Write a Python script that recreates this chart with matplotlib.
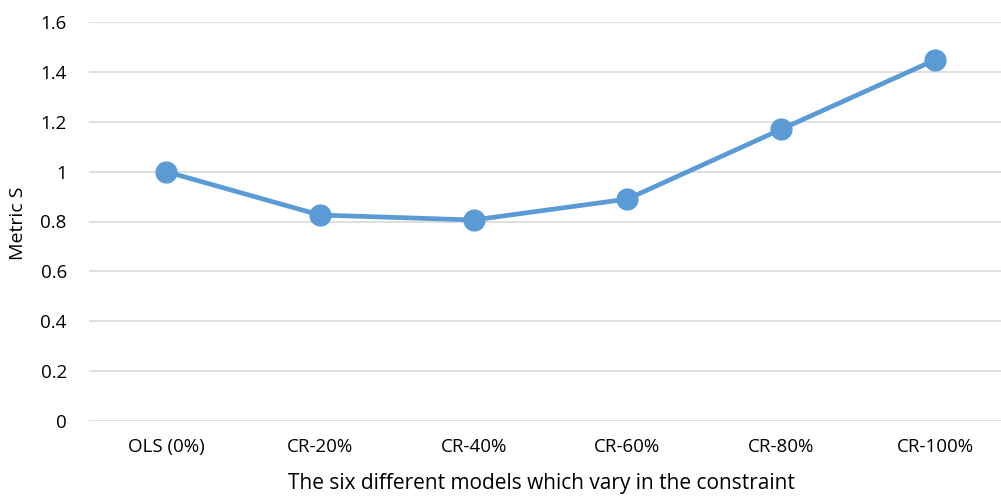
import matplotlib.pyplot as plt

# Data
models = ["OLS (0%)", "CR-20%", "CR-40%", "CR-60%", "CR-80%", "CR-100%"]
metric_s = [1.0, 0.826, 0.806, 0.89, 1.17, 1.448]
yticks = [0, 0.2, 0.4, 0.6, 0.8, 1, 1.2, 1.4, 1.6]
ytick_labels = ["0", "0.2", "0.4", "0.6", "0.8", "1", "1.2", "1.4", "1.6"]

plt.rcParams["font.family"] = ["Open Sans", "DejaVu Sans"]

W, H = 1001, 497
fig = plt.figure(figsize=(W / 100, H / 100), dpi=100)
# plot area in pixels: x 89..1012 (right edge cut off), y 22..421
ax = fig.add_axes([89 / W, (H - 421) / H, (1012 - 89) / W, (421 - 22) / H])

x = list(range(len(models)))
ax.plot(x, metric_s, color="#5B9BD5", linewidth=3.4, marker="o",
        markersize=15, solid_capstyle="round", zorder=3, clip_on=False)

ax.set_xlim(-0.5, len(models) - 0.5)
ax.set_ylim(0, 1.6)
ax.set_yticks(yticks)
ax.set_yticklabels(ytick_labels)
ax.set_xticks(x)
ax.set_xticklabels(models)
ax.grid(axis="y", color="#D9D9D9", linewidth=1.2)
ax.set_axisbelow(True)
for s in ax.spines.values():
    s.set_visible(False)
ax.tick_params(axis="both", length=0, labelsize=13.5, colors="#000000")
ax.tick_params(axis="y", pad=16)
ax.tick_params(axis="x", pad=12)

ax.set_ylabel("Metric S", fontsize=14, va="center")
ax.set_xlabel("The six different models which vary in the constraint", fontsize=15, va="center")
ax.xaxis.set_label_coords((541 - 89) / (1012 - 89), -(484 - 421) / (421 - 22))
ax.yaxis.set_label_coords(-(89 - 18) / (1012 - 89), (421 - 223) / (421 - 22))

fig.savefig("out.png", dpi=100)
